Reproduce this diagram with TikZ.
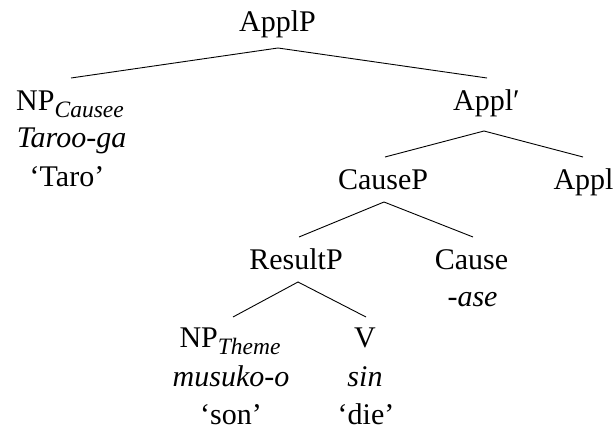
\documentclass[tikz,border=0pt]{standalone}
\usepackage{fontspec}
\setmainfont{Liberation Serif}
\begin{document}
\begin{tikzpicture}[x=1pt,y=-1pt,
  lbl/.style={anchor=base, inner sep=0pt, font=\fontsize{30}{36}\selectfont},
  gloss/.style={lbl, font=\fontsize{30}{36}\selectfont\itshape},
  branch/.style={line width=0.9pt}]
\newcommand{\subl}[1]{\raisebox{-6.5pt}{\fontsize{23.5}{28}\selectfont\itshape #1}}
\useasboundingbox (0,0) rectangle (616,430);

% labels of the tree nodes
\node[lbl] (applp)   at (277.5,32) {ApplP};
\node[lbl] (npc)     at (70,111)   {NP\subl{Causee}};
\node[gloss] (taroo) at (71.5,148) {Taroo-ga};
\node[lbl] (taro)    at (67,187)   {`Taro'};
\node[lbl] (applbar) at (486.5,111){Appl′};
\node[lbl] (causep)  at (383,190)  {CauseP};
\node[lbl] (appl)    at (583.5,190){Appl};
\node[lbl] (resultp) at (296,270)  {ResultP};
\node[lbl] (cause)   at (471.5,270){Cause};
\node[gloss] (ase)   at (472.5,307){-ase};
\node[lbl] (npt)     at (230,348)  {NP\subl{Theme}};
\node[gloss] (musuko) at (231,386) {musuko-o};
\node[lbl] (son)     at (231,424)  {`son'};
\node[lbl] (v)       at (365,348)  {V};
\node[gloss] (sin)   at (365,387)  {sin};
\node[lbl] (die)     at (366,424)  {`die'};

% branches
\draw[branch] ([xshift=1pt,yshift=33pt]npc.base) -- ([xshift=0.5pt,yshift=-16pt]applp.base)
              -- ([xshift=0.5pt,yshift=33pt]applbar.base);
\draw[branch] ([xshift=2pt,yshift=33pt]causep.base) -- ([xshift=-2.5pt,yshift=-20pt]applbar.base)
              -- ([xshift=-0.5pt,yshift=33pt]appl.base);
\draw[branch] ([xshift=3pt,yshift=33pt]resultp.base) -- ([xshift=1pt,yshift=-12pt]causep.base)
              -- ([xshift=1.5pt,yshift=33pt]cause.base);
\draw[branch] ([xshift=3pt,yshift=31pt]npt.base) -- ([xshift=2pt,yshift=-12pt]resultp.base)
              -- ([xshift=1pt,yshift=31pt]v.base);
\end{tikzpicture}
\end{document}
